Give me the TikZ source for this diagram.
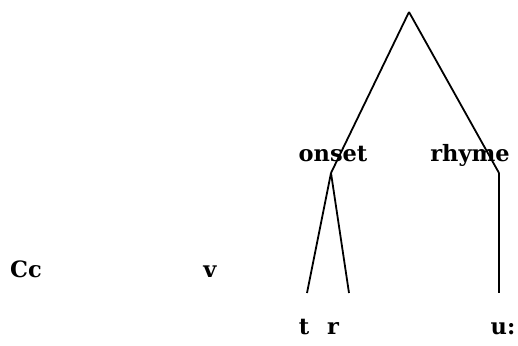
\documentclass[tikz,border=0pt]{standalone}
\usepackage{fontspec}
\setmainfont{DejaVu Serif}
\usepackage{tikz}

\begin{document}
\begin{tikzpicture}[x=1pt,y=-1pt,every node/.style={font=\bfseries\fontsize{22.5}{27}\selectfont,inner sep=0pt,anchor=base}]
  \useasboundingbox (0,0) rectangle (518,345);
  % tree joints
  \coordinate (root) at (409,12);
  \coordinate (onsetjoint) at (331,173);
  \coordinate (rhymejoint) at (499,173);
  \coordinate (tend) at (307,293);
  \coordinate (rend) at (349,293);
  \coordinate (uend) at (499,293);
  % labels
  \node (onset) at (333,161) {onset};
  \node (rhyme) at (470,161) {rhyme};
  \node (cc) at (26,277) {Cc};
  \node (v) at (210,277) {v};
  \node (t) at (304,334) {t};
  \node (r) at (333,334) {r};
  \node (u) at (503,334) {u:};
  % branches
  \draw[line width=1.8pt] (root) -- (onsetjoint);
  \draw[line width=1.8pt] (root) -- (rhymejoint);
  \draw[line width=1.8pt] (onsetjoint) -- (tend);
  \draw[line width=1.8pt] (onsetjoint) -- (rend);
  \draw[line width=1.8pt] (rhymejoint) -- (uend);
\end{tikzpicture}
\end{document}
